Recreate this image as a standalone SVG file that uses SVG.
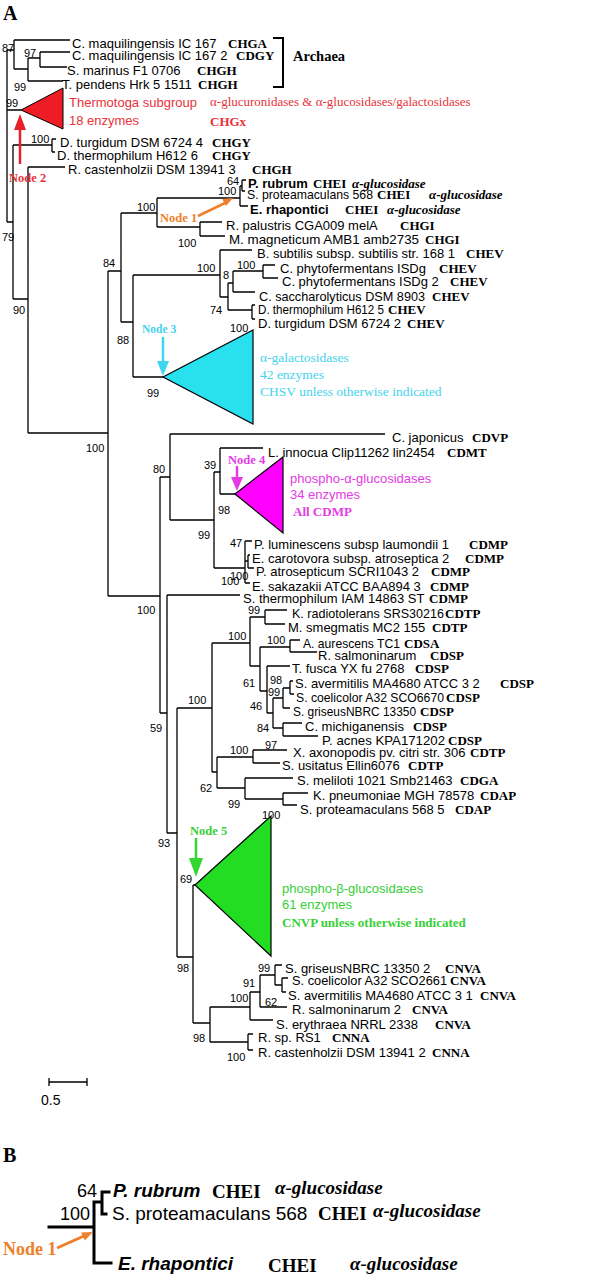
<svg xmlns="http://www.w3.org/2000/svg" width="590" height="1280" viewBox="0 0 590 1280">
<style>
text{font-family:"Liberation Sans",Arial,sans-serif;font-size:13px;fill:#000}
.b{font-weight:bold}
.c{font-family:"Liberation Serif","Times New Roman",serif;font-weight:bold}
.i{font-family:"Liberation Serif","Times New Roman",serif;font-weight:bold;font-style:italic}
.s{font-family:"Liberation Serif","Times New Roman",serif}
.bs{font-size:11px}
.nd{font-family:"Liberation Serif","Times New Roman",serif;font-weight:bold;font-size:12.5px}
.t{fill:none;stroke:#000;stroke-width:1.3}
.tk{fill:none;stroke:#000;stroke-width:3;stroke-linecap:square}
.red{fill:#e8323a}.cy{fill:#45d3ec}.mg{fill:#e43be4}.gr{fill:#38d038}.or{fill:#ee7f2d}
</style>
<text x="3" y="20" class="c" style="font-size:20px">A</text>
<g id="connectors">
<path class="t" d="M7 50V222M7 50H14M14 40V69M14 40H70M14 69H28M28 58V81M28 58H40M40 52V67M40 52H70M40 67H67M28 81H63M7 110H21M7 222H13M13 145V299M13 145H52M52 139V152M52 139H56M52 152H55M13 299H28M28 167V433M28 167H65M28 433H108M108 271V596M108 271H121M121 213V322M121 213H157M157 198V227M157 198H240M240 186V206M240 186H242M242 180V191M242 180H246M242 191H245M240 206H248M157 227H200M200 222V236M200 222H222M200 236H225M121 322H133M133 275V377M133 275H220M220 250V297M220 250H252M220 297H228M228 283V310M228 283H233M233 271V292M233 271H263M263 265V278M263 265H275M263 278H278M233 292H255M228 310H252M252 305V319M252 305H255M252 319H255M133 377H163"/>
<path class="t" d="M108 596H160M160 477V713M160 477H170M170 434V520M170 434H385M170 520H214M214 472V568M214 472H220M220 448V494M220 448H263M220 494H235M214 568H245M245 541V583M245 541H252M245 561H248M248 555V568M248 555H250M248 568H254M245 583H250M160 713H167M167 595V833M167 595H240M167 833H177M177 708V957M177 708H212M212 643V772M212 643H250M250 617V666M250 617H265M265 610V624M265 610H287M265 624H285M250 666H260M260 647V691M260 647H290M290 640V652M290 640H300M290 652H317M260 691H267M267 666V713M267 666H290M267 713H273M273 698V728M273 698H283M283 688V708M283 688H290M290 681V694M290 681H293M290 694H294M283 708H290M273 728H283M283 723V736M283 723H302M283 736H318M212 772H217M217 757V788M217 757H253M253 750V763M253 750H287M253 763H280M217 788H245M245 778V799M245 778H293M245 799H283M283 793V805M283 793H308M283 805H297"/>
<path class="t" d="M177 957H193M193 885V1023M193 885H195M193 1023H210M210 1007V1042M210 1007H250M250 992V1020M250 992H260M260 975V1007M260 975H275M275 965V985M275 965H282M275 985H282M282 978V992M282 978H288M282 992H286M260 1007H287M250 1020H273M210 1042H248M248 1034V1050M248 1034H253M248 1050H253"/>
</g>
<g id="bootstrap" class="bs">
<text x="2" y="52" class="bs">87</text><text x="24" y="57" class="bs">97</text><text x="14" y="91" class="bs">99</text><text x="6" y="107" class="bs">99</text>
<text x="31" y="143" class="bs">100</text><text x="2" y="241" class="bs">79</text><text x="13" y="314" class="bs">90</text>
<text x="227" y="185" class="bs">64</text><text x="218" y="195" class="bs">100</text><text x="137" y="211" class="bs">100</text><text x="178" y="247" class="bs">100</text>
<text x="103" y="267" class="bs">84</text><text x="197" y="272" class="bs">100</text><text x="223" y="279" class="bs">8</text><text x="237" y="269" class="bs">100</text>
<text x="210" y="314" class="bs">74</text><text x="117" y="344" class="bs">88</text><text x="230" y="332" class="bs">100</text><text x="147" y="397" class="bs">99</text>
<text x="86" y="452" class="bs">100</text><text x="153" y="473" class="bs">80</text><text x="204" y="469" class="bs">39</text><text x="218" y="514" class="bs">98</text>
<text x="198" y="539" class="bs">99</text><text x="230" y="547" class="bs">47</text><text x="221" y="585" class="bs">100</text><text x="230" y="580" class="bs">100</text>
<text x="137" y="614" class="bs">100</text><text x="248" y="614" class="bs">99</text><text x="228" y="640" class="bs">100</text><text x="267" y="644" class="bs">100</text>
<text x="270" y="684" class="bs">98</text><text x="243" y="687" class="bs">61</text><text x="268" y="696" class="bs">99</text><text x="188" y="704" class="bs">100</text>
<text x="250" y="710" class="bs">46</text><text x="150" y="732" class="bs">59</text><text x="257" y="732" class="bs">84</text><text x="265" y="749" class="bs">97</text>
<text x="230" y="754" class="bs">100</text><text x="200" y="792" class="bs">62</text><text x="228" y="808" class="bs">99</text><text x="262" y="819" class="bs">100</text>
<text x="158" y="847" class="bs">93</text><text x="180" y="883" class="bs">69</text><text x="177" y="972" class="bs">98</text><text x="258" y="972" class="bs">99</text>
<text x="243" y="987" class="bs">91</text><text x="230" y="1002" class="bs">100</text><text x="265" y="1006" class="bs">62</text><text x="193" y="1042" class="bs">98</text>
<text x="227" y="1061" class="bs">100</text>
</g>
<g id="archaea">
<text x="72" y="48">C. maquilingensis IC 167</text><text x="228" y="48" class="c">CHGA</text>
<text x="72" y="60">C. maquilingensis IC 167 2</text><text x="236" y="60" class="c">CDGY</text>
<text x="67" y="75">S. marinus F1 0706</text><text x="197" y="75" class="c">CHGH</text>
<text x="62" y="89">T. pendens Hrk 5 1511</text><text x="198" y="89" class="c">CHGH</text>
<path d="M273 38H283V87H273" fill="none" stroke="#000" stroke-width="2"/>
<text x="293" y="61" class="c" style="font-size:14.5px">Archaea</text>
</g>
<g id="thermotoga">
<polygon points="21,110 63,88 63,129" fill="#ee1c24" stroke="#000" stroke-width="1"/>
<text x="69" y="107" class="red">Thermotoga subgroup</text>
<text x="69" y="125" class="red">18 enzymes</text>
<text x="210" y="106" class="s red">α-glucuronidases &amp; α-glucosidases/galactosidases</text>
<text x="210" y="126" class="c red">CHGx</text>
</g>
<g id="node2"><path d="M20 164V128" stroke="#e8202a" stroke-width="2.5"/><polygon points="14,130 26,130 20,114" fill="#e8202a"/><text x="9" y="182" class="nd red">Node 2</text></g>
<g id="leaves-1">
<text x="60" y="147">D. turgidum DSM 6724 4</text><text x="212" y="147" class="c">CHGY</text>
<text x="57" y="160">D. thermophilum H612 6</text><text x="212" y="160" class="c">CHGY</text>
<text x="68" y="174">R. castenholzii DSM 13941 3</text><text x="252" y="174" class="c">CHGH</text>
<text x="248" y="188" class="b">P. rubrum</text><text x="313" y="188" class="c">CHEI</text><text x="352" y="188" class="i">α-glucosidase</text>
<text x="247" y="199" textLength="126" lengthAdjust="spacingAndGlyphs">S. proteamaculans 568</text><text x="377" y="199" class="c">CHEI</text><text x="429" y="199" class="i">α-glucosidase</text>
<text x="250" y="214" class="b">E. rhapontici</text><text x="345" y="214" class="c">CHEI</text><text x="387" y="214" class="i">α-glucosidase</text>
<text x="226" y="230">R. palustris CGA009 melA</text><text x="400" y="230" class="c">CHGI</text>
<text x="229" y="244" textLength="190" lengthAdjust="spacingAndGlyphs">M. magneticum AMB1 amb2735</text><text x="425" y="244" class="c">CHGI</text>
<text x="257" y="258">B. subtilis subsp. subtilis str. 168 1</text><text x="466" y="258" class="c">CHEV</text>
<text x="280" y="273">C. phytofermentans ISDg</text><text x="439" y="273" class="c">CHEV</text>
<text x="282" y="286">C. phytofermentans ISDg 2</text><text x="450" y="286" class="c">CHEV</text>
<text x="259" y="301" textLength="166" lengthAdjust="spacingAndGlyphs">C. saccharolyticus DSM 8903</text><text x="432" y="301" class="c">CHEV</text>
<text x="258" y="314" textLength="126" lengthAdjust="spacingAndGlyphs">D. thermophilum H612 5</text><text x="388" y="314" class="c">CHEV</text>
<text x="258" y="328">D. turgidum DSM 6724 2</text><text x="407" y="328" class="c">CHEV</text>
</g>
<g id="node1"><path d="M198 216L225 203" stroke="#ee7f2d" stroke-width="2.5"/><polygon points="233,198 225.9,206 222.3,198.9" fill="#ee7f2d"/><text x="160" y="222" class="nd or">Node 1</text></g>
<g id="alpha-gal">
<polygon points="163,377 253,330 253,424" fill="#29e0ef" stroke="#000" stroke-width="1.2"/>
<text x="260" y="362" class="s cy" style="font-size:13.5px">α-galactosidases</text>
<text x="260" y="379" class="s cy" style="font-size:13.5px">42 enzymes</text>
<text x="260" y="396" class="s cy" style="font-size:13.5px">CHSV unless otherwise indicated</text>
</g>
<g id="node3"><path d="M163 337V362" stroke="#3cd6ee" stroke-width="2.5"/><polygon points="157,361 169,361 163,376" fill="#3cd6ee"/><text x="142" y="333" class="nd cy" style="font-size:11.5px">Node 3</text></g>
<g id="leaves-2">
<text x="392" y="442">C. japonicus</text><text x="472" y="442" class="c">CDVP</text>
<text x="268" y="457">L. innocua Clip11262 lin2454</text><text x="447" y="457" class="c">CDMT</text>
</g>
<g id="phospho-alpha">
<polygon points="235,494 283,457 283,533" fill="#ff00ff" stroke="#000" stroke-width="1.2"/>
<text x="290" y="483" class="mg">phospho-α-glucosidases</text>
<text x="290" y="499" class="mg">34 enzymes</text>
<text x="293" y="516" class="c mg">All CDMP</text>
</g>
<g id="node4"><path d="M237 466V478" stroke="#e43be4" stroke-width="2.5"/><polygon points="231,477 243,477 237,491" fill="#e43be4"/><text x="228" y="464" class="nd mg">Node 4</text></g>
<g id="leaves-3">
<text x="254" y="549">P. luminescens subsp laumondii 1</text><text x="469" y="549" class="c">CDMP</text>
<text x="252" y="563">E. carotovora subsp. atroseptica 2</text><text x="465" y="563" class="c">CDMP</text>
<text x="256" y="576">P. atrosepticum SCRI1043 2</text><text x="431" y="576" class="c">CDMP</text>
<text x="252" y="591">E. sakazakii ATCC BAA894 3</text><text x="430" y="591" class="c">CDMP</text>
<text x="243" y="603">S. thermophilum IAM 14863 ST</text><text x="429" y="603" class="c">CDMP</text>
<text x="292" y="618" textLength="152" lengthAdjust="spacingAndGlyphs">K. radiotolerans SRS30216</text><text x="445" y="618" class="c">CDTP</text>
<text x="288" y="632">M. smegmatis MC2 155</text><text x="432" y="632" class="c">CDTP</text>
<text x="303" y="648" textLength="97" lengthAdjust="spacingAndGlyphs">A. aurescens TC1</text><text x="404" y="648" class="c">CDSA</text>
<text x="318" y="660">R. salmoninarum</text><text x="430" y="660" class="c">CDSP</text>
<text x="292" y="673">T. fusca YX fu 2768</text><text x="415" y="673" class="c">CDSP</text>
<text x="295" y="688">S. avermitilis MA4680 ATCC 3 2</text><text x="500" y="688" class="c">CDSP</text>
<text x="296" y="702" textLength="148" lengthAdjust="spacingAndGlyphs">S. coelicolor A32 SCO6670</text><text x="446" y="702" class="c">CDSP</text>
<text x="293" y="716" textLength="123" lengthAdjust="spacingAndGlyphs">S. griseusNBRC 13350</text><text x="420" y="716" class="c">CDSP</text>
<text x="305" y="731">C. michiganensis</text><text x="413" y="731" class="c">CDSP</text>
<text x="322" y="745" textLength="123" lengthAdjust="spacingAndGlyphs">P. acnes KPA171202</text><text x="448" y="745" class="c">CDSP</text>
<text x="293" y="757">X. axonopodis pv. citri str. 306</text><text x="470" y="757" class="c">CDTP</text>
<text x="282" y="770">S. usitatus Ellin6076</text><text x="408" y="770" class="c">CDTP</text>
<text x="297" y="785">S. meliloti 1021 Smb21463</text><text x="460" y="785" class="c">CDGA</text>
<text x="313" y="800">K. pneumoniae MGH 78578</text><text x="480" y="800" class="c">CDAP</text>
<text x="300" y="814">S. proteamaculans 568 5</text><text x="455" y="814" class="c">CDAP</text>
</g>
<g id="phospho-beta">
<polygon points="195,885 271,816 271,956" fill="#22dd22" stroke="#000" stroke-width="1.2"/>
<text x="282" y="893" class="gr">phospho-β-glucosidases</text>
<text x="282" y="909" class="gr">61 enzymes</text>
<text x="282" y="927" class="c gr">CNVP unless otherwise indicated</text>
</g>
<g id="node5"><path d="M196 838V860" stroke="#33d633" stroke-width="2.5"/><polygon points="189,858 203,858 196,877" fill="#33d633"/><text x="190" y="835" class="nd gr">Node 5</text></g>
<g id="leaves-4">
<text x="285" y="973">S. griseusNBRC 13350 2</text><text x="445" y="973" class="c">CNVA</text>
<text x="292" y="985" textLength="155" lengthAdjust="spacingAndGlyphs">S. coelicolor A32 SCO2661</text><text x="450" y="985" class="c">CNVA</text>
<text x="288" y="1000">S. avermitilis MA4680 ATCC 3 1</text><text x="480" y="1000" class="c">CNVA</text>
<text x="292" y="1014">R. salmoninarum 2</text><text x="412" y="1014" class="c">CNVA</text>
<text x="276" y="1029">S. erythraea NRRL 2338</text><text x="435" y="1029" class="c">CNVA</text>
<text x="258" y="1042">R. sp. RS1</text><text x="332" y="1042" class="c">CNNA</text>
<text x="258" y="1057">R. castenholzii DSM 13941 2</text><text x="432" y="1057" class="c">CNNA</text>
</g>
<g id="scalebar"><path class="t" d="M49 1082H87M49 1078V1086M87 1078V1086"/><text x="41" y="1105" style="font-size:14px">0.5</text></g>
<g id="panel-b">
<text x="3" y="1162" class="c" style="font-size:20px">B</text>
<path class="tk" d="M49 1227H94M94 1202V1263M94 1202H102M102 1192V1214M102 1192H109M102 1214H106M94 1263H111"/>
<text x="77" y="1197" style="font-size:18px">64</text>
<text x="60" y="1220" style="font-size:18px">100</text>
<text x="113" y="1197" class="b" style="font-size:19px;font-style:italic">P. rubrum</text>
<text x="212" y="1198" class="c" style="font-size:19px">CHEI</text>
<text x="275" y="1194" class="i" style="font-size:19px">α-glucosidase</text>
<text x="112" y="1220" style="font-size:19px">S. proteamaculans 568</text>
<text x="318" y="1220" class="c" style="font-size:19px">CHEI</text>
<text x="373" y="1217" class="i" style="font-size:19px">α-glucosidase</text>
<text x="118" y="1270" class="b" style="font-size:19px;font-style:italic">E. rhapontici</text>
<text x="268" y="1272" class="c" style="font-size:19px">CHEI</text>
<text x="350" y="1270" class="i" style="font-size:19px">α-glucosidase</text>
<g id="node1-b"><path d="M57 1248L84 1236" stroke="#ee7f2d" stroke-width="3"/><polygon points="93,1232 84.8,1240.6 81.1,1232.4" fill="#ee7f2d"/><text x="3" y="1255" class="nd or" style="font-size:18px">Node 1</text></g>
</g>
</svg>
